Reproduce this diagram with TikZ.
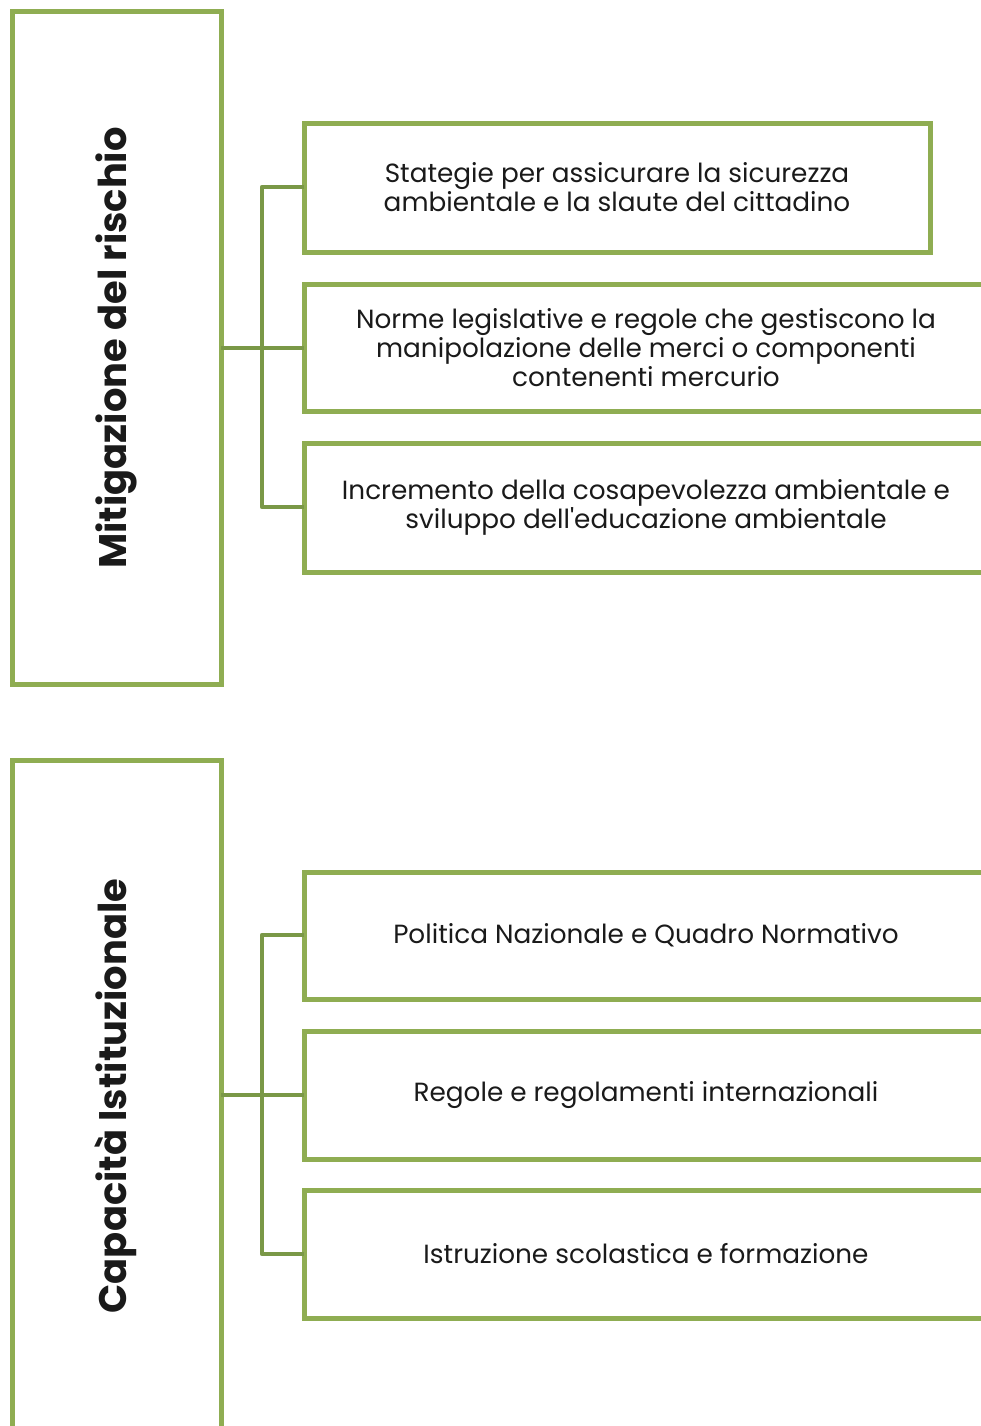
\documentclass[tikz,border=0pt]{standalone}
\usepackage{fontspec}
\setmainfont{Poppins}
\definecolor{boxgreen}{HTML}{8FAD52}
\definecolor{linkgreen}{HTML}{7A9847}
\definecolor{txt}{HTML}{1A1A1A}
\begin{document}
\begin{tikzpicture}[x=1pt,y=-1pt,
  titlebox/.style={draw=boxgreen,line width=5pt,fill=white},
  itembox/.style={draw=boxgreen,line width=5pt,fill=white},
  itemtext/.style={align=center,text=txt,font=\fontsize{26.3}{29}\selectfont},
  titletext/.style={rotate=90,text=txt,font=\bfseries\fontsize{38.4}{44}\selectfont},
  link/.style={draw=linkgreen,line width=4.5pt}]
\useasboundingbox (0,0) rectangle (981,1426);
\begin{scope}
\clip (0,0) rectangle (981,1426);
% top group
\draw[titlebox] (12,12) rectangle (221,684);
\node[titletext] (t1) at (116,348) {Mitigazione del rischio};
\coordinate (t1e) at (221,348);
\coordinate (j1) at (262,348);
\draw[itembox] (304,124) rectangle (930,252);
\node[itemtext] (a1) at (617,187.5) {Stategie per assicurare la sicurezza\\ambientale e la slaute del cittadino};
\draw[itembox] (304,284) rectangle (988,411);
\node[itemtext] (a2) at (646,347.5) {Norme legislative e regole che gestiscono la\\manipolazione delle merci o componenti\\contenenti mercurio};
\draw[itembox] (304,443) rectangle (988,572);
\node[itemtext] (a3) at (646,507) {Incremento della cosapevolezza ambientale e\\sviluppo dell\textquotesingle educazione ambientale};
\coordinate (b1) at (304,187);
\coordinate (b2) at (304,348);
\coordinate (b3) at (304,507);
\draw[link] (t1e) -- (j1);
\draw[link,line join=round] (b1) -| (262,348) |- (b3);
\draw[link] (j1) -- (b2);
% bottom group
\draw[titlebox] (12,760) rectangle (221,1450);
\node[titletext] (t2) at (116,1096) {Capacità Istituzionale};
\coordinate (t2e) at (221,1095);
\coordinate (j2) at (262,1095);
\draw[itembox] (304,872) rectangle (988,999);
\node[itemtext] (c1) at (646,935) {Politica Nazionale e Quadro Normativo};
\draw[itembox] (304,1031) rectangle (988,1159);
\node[itemtext] (c2) at (646,1095) {Regole e regolamenti internazionali};
\draw[itembox] (304,1190) rectangle (988,1318);
\node[itemtext] (c3) at (646,1254) {Istruzione scolastica e formazione};
\coordinate (d1) at (304,935);
\coordinate (d2) at (304,1095);
\coordinate (d3) at (304,1254);
\draw[link] (t2e) -- (j2);
\draw[link,line join=round] (d1) -| (262,1095) |- (d3);
\draw[link] (j2) -- (d2);
\end{scope}
\end{tikzpicture}
\end{document}
